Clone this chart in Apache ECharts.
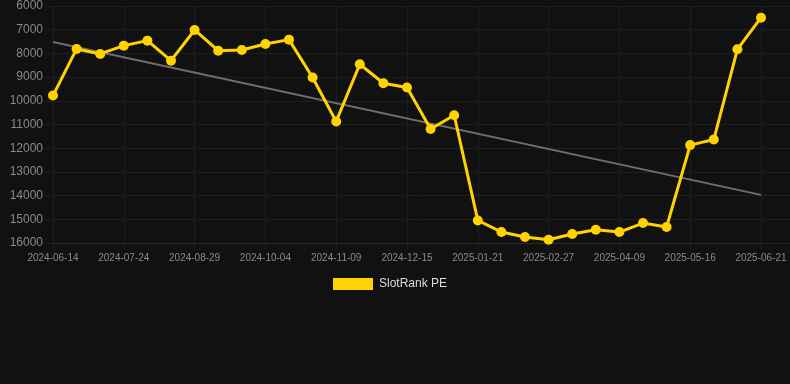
<!DOCTYPE html>
<html>
<head>
<meta charset="utf-8">
<script src="https://cdn.jsdelivr.net/npm/echarts@6/dist/echarts.min.js"></script>
<style>
html,body{margin:0;padding:0;background:#111111;}
#c{width:790px;height:384px;}
</style>
</head>
<body>
<div id="c"></div>
<script>
const dates = ['2024-06-14','2024-06-27','2024-07-11','2024-07-24','2024-08-05','2024-08-17','2024-08-29','2024-09-10','2024-09-22','2024-10-04','2024-10-16','2024-10-28','2024-11-09','2024-11-21','2024-12-03','2024-12-15','2024-12-27','2025-01-09','2025-01-21','2025-02-02','2025-02-14','2025-02-27','2025-03-13','2025-03-26','2025-04-09','2025-04-21','2025-05-03','2025-05-16','2025-05-28','2025-06-09','2025-06-21'];
const rankValues = [9780,7812,8023,7672,7461,8305,7011,7883,7854,7601,7419,9020,10870,8458,9258,9442,11190,10608,15047,15537,15747,15861,15621,15440,15537,15158,15326,11870,11634,7826,6493];
const trendStart = 7520;
const trendEnd = 13970;
const yMin = 6000, yMax = 16000, yStep = 1000;
const seriesName = 'SlotRank PE';

const trendData = dates.map((d, i) => i === 0 ? trendStart : (i === dates.length - 1 ? trendEnd : null));

const chart = echarts.init(document.getElementById('c'), null, {renderer: 'canvas'});
const gridColor = '#1e1e1e';
chart.setOption({
  backgroundColor: '#111111',
  animation: false,
  grid: [
    {left: 45, right: 0, top: 6, bottom: 141, containLabel: false},
    {left: 53, right: 29, top: 6, bottom: 141, containLabel: false}
  ],
  legend: {
    data: [seriesName],
    top: 273,
    left: 328,
    icon: 'rect',
    itemWidth: 40,
    itemHeight: 12,
    textStyle: {color: '#dddddd', fontSize: 12, padding: [0, 0, 0, 1], fontFamily: 'Liberation Sans, Arial, sans-serif'}
  },
  xAxis: [
    {gridIndex: 0, type: 'category', data: dates, show: false},
    {
      gridIndex: 1, type: 'category', data: dates, boundaryGap: false,
      axisLine: {show: true, lineStyle: {color: '#2a2a2a'}},
      axisTick: {show: true, interval: 2, length: 6, lineStyle: {color: gridColor}},
      splitLine: {show: true, interval: 2, lineStyle: {color: gridColor, width: 1}},
      axisLabel: {interval: 2, color: '#8a8a8a', fontSize: 10, margin: 10, fontFamily: 'Liberation Sans, Arial, sans-serif'}
    }
  ],
  yAxis: [
    {
      gridIndex: 0, type: 'value', inverse: true, min: yMin, max: yMax, interval: yStep,
      axisLine: {show: false}, axisTick: {show: false},
      splitLine: {show: true, lineStyle: {color: gridColor, width: 1}},
      axisLabel: {color: '#8a8a8a', fontSize: 12, margin: 2, formatter: v => String(v), fontFamily: 'Liberation Sans, Arial, sans-serif'}
    },
    {
      gridIndex: 1, type: 'value', inverse: true, min: yMin, max: yMax, interval: yStep,
      show: false, splitLine: {show: false}
    }
  ],
  series: [
    {
      name: 'trend', type: 'line', xAxisIndex: 1, yAxisIndex: 1,
      data: trendData, connectNulls: true, symbol: 'none',
      lineStyle: {color: '#6e6e6e', width: 2}, z: 2, silent: true
    },
    {
      name: seriesName, type: 'line', xAxisIndex: 1, yAxisIndex: 1,
      data: rankValues, symbol: 'circle', symbolSize: 10,
      itemStyle: {color: '#FFD300'},
      lineStyle: {color: '#FFD300', width: 3}, z: 3
    }
  ]
});
</script>
</body>
</html>
